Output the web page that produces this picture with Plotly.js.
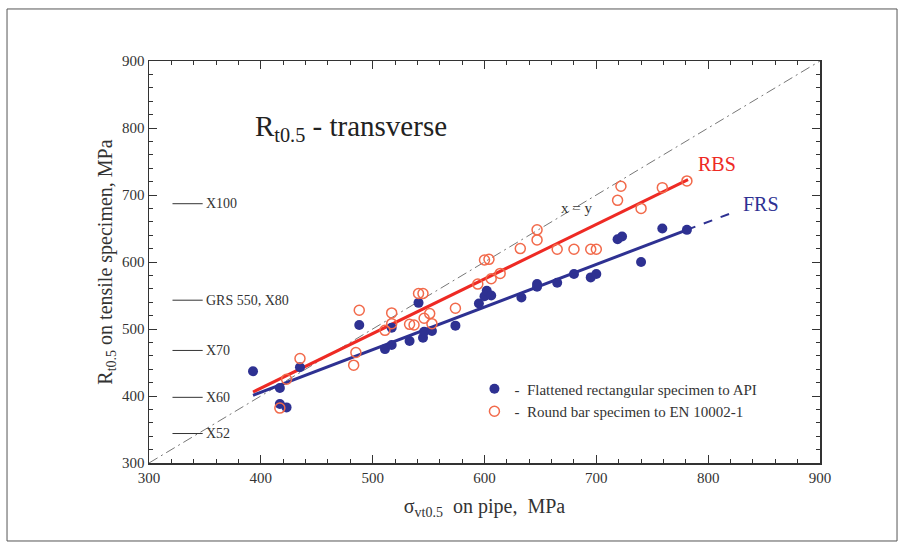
<!DOCTYPE html>
<html>
<head>
<meta charset="utf-8">
<script src="https://cdn.plot.ly/plotly-3.0.1.min.js"></script>
<style>html,body{margin:0;padding:0;background:#fff;}#chart{width:905px;height:549px;}</style>
</head>
<body>
<div id="chart"></div>
<script>
// Flattened rectangular specimens (FRS) — filled blue
const frsX = [393,417,417,423,435,488,511,517,517,533,541,545,546,553,574,595,600,602,606,633,647,647,665,680,695,700,719,723,740,759,781];
const frsY = [437,412,388,383,443,506,470,476,502,482,539,487,496,497,505,538,549,557,550,547,567,563,569,582,577,582,634,638,600,650,648];
// Round bar specimens (RBS) — open red
const rbsX = [417,423,435,483,485,488,511,517,517,533,537,541,545,546,551,553,574,594,600,604,606,614,632,647,647,665,680,695,700,719,722,740,759,781];
const rbsY = [382,425,456,446,465,528,498,524,508,507,506,553,553,516,523,508,531,567,603,604,575,583,620,648,633,619,619,619,619,692,713,680,711,721];
// Regression lines
const rbsFitX = [393,782], rbsFitY = [406,723];
const frsFitX = [393,781], frsFitY = [401,648];
const frsExtX = [781,824], frsExtY = [648,675];
// x = y reference
const diagX = [300,900], diagY = [300,900];
// Grade levels
const gradeNames = ['X100','GRS 550, X80','X70','X60','X52'];
const gradeY = [687,543,468,398,344];
const gradeLineX = [321,348];

const font = 'Liberation Serif, Times New Roman, serif';
const blue = '#2e3192', red = '#ee2a24', orange = '#f26a4b';

const traces = [
  {x: diagX, y: diagY, mode:'lines', line:{color:'#777', width:1, dash:'10px,4px,2px,4px'}, showlegend:false, hoverinfo:'skip'},
  {x: rbsFitX, y: rbsFitY, mode:'lines', line:{color:red, width:3}, showlegend:false},
  {x: frsFitX, y: frsFitY, mode:'lines', line:{color:blue, width:3}, showlegend:false},
  {x: frsExtX, y: frsExtY, mode:'lines', line:{color:blue, width:2, dash:'dash'}, showlegend:false},
  {x: frsX, y: frsY, mode:'markers', name:'-  Flattened rectangular specimen to API',
   marker:{symbol:'circle', size:10, color:blue, line:{color:blue, width:0}}},
  {x: rbsX, y: rbsY, mode:'markers', name:'-  Round bar specimen to EN 10002-1',
   marker:{symbol:'circle-open', size:10, color:orange, line:{color:orange, width:1.5}}}
];

const shapes = gradeY.map(g => ({type:'line', xref:'x', yref:'y', x0:gradeLineX[0], x1:gradeLineX[1], y0:g, y1:g, line:{color:'#333', width:1}}));
shapes.push({type:'rect', xref:'paper', yref:'paper', x0:-0.2116, x1:1.1148, y0:-0.194, y1:1.1294, line:{color:'#555', width:1}, layer:'below'});

const annotations = gradeNames.map((n,i) => ({x:349, y:gradeY[i], xref:'x', yref:'y', text:n, showarrow:false, xanchor:'left', yanchor:'middle', font:{family:font, size:14, color:'#333'}}));
annotations.push({x:393, y:800, xref:'x', yref:'y', text:'R<sub>t0.5</sub> - transverse', showarrow:false, xanchor:'left', yanchor:'middle', font:{family:font, size:29, color:'#222'}});
annotations.push({x:682, y:680, xref:'x', yref:'y', text:'x = y', showarrow:false, font:{family:font, size:15, color:'#333'}});
annotations.push({x:808, y:746, xref:'x', yref:'y', text:'RBS', showarrow:false, font:{family:font, size:20, color:red}});
annotations.push({x:847, y:686, xref:'x', yref:'y', text:'FRS', showarrow:false, font:{family:font, size:20, color:blue}});

const axisCommon = {
  range:[300,900], dtick:100, tick0:300, ticks:'inside', ticklen:8, tickcolor:'#333', tickwidth:1,
  showline:true, linecolor:'#333', linewidth:1.5, mirror:'allticks', showgrid:false, zeroline:false,
  tickfont:{family:font, size:15, color:'#333'},
  minor:{ticks:'inside', dtick:20, ticklen:4, tickcolor:'#333', showgrid:false}
};

const layout = {
  width:905, height:549,
  margin:{l:149, r:85, t:61, b:86},
  paper_bgcolor:'#fff', plot_bgcolor:'#fff',
  font:{family:font, color:'#333'},
  xaxis: Object.assign({}, axisCommon, {title:{text:'σ<sub>vt0.5</sub>  on pipe,  MPa', font:{family:font, size:20, color:'#333'}, standoff:14}}),
  yaxis: Object.assign({}, axisCommon, {title:{text:'R<sub>t0.5</sub> on tensile specimen, MPa', font:{family:font, size:20, color:'#333'}, standoff:4}}),
  showlegend:true,
  legend:{x:0.485, y:0.225, xanchor:'left', yanchor:'top', bgcolor:'rgba(0,0,0,0)', font:{family:font, size:15, color:'#333'}, tracegroupgap:0, itemwidth:30},
  shapes: shapes,
  annotations: annotations
};

Plotly.newPlot('chart', traces, layout, {displayModeBar:false, staticPlot:true});
</script>
</body>
</html>
